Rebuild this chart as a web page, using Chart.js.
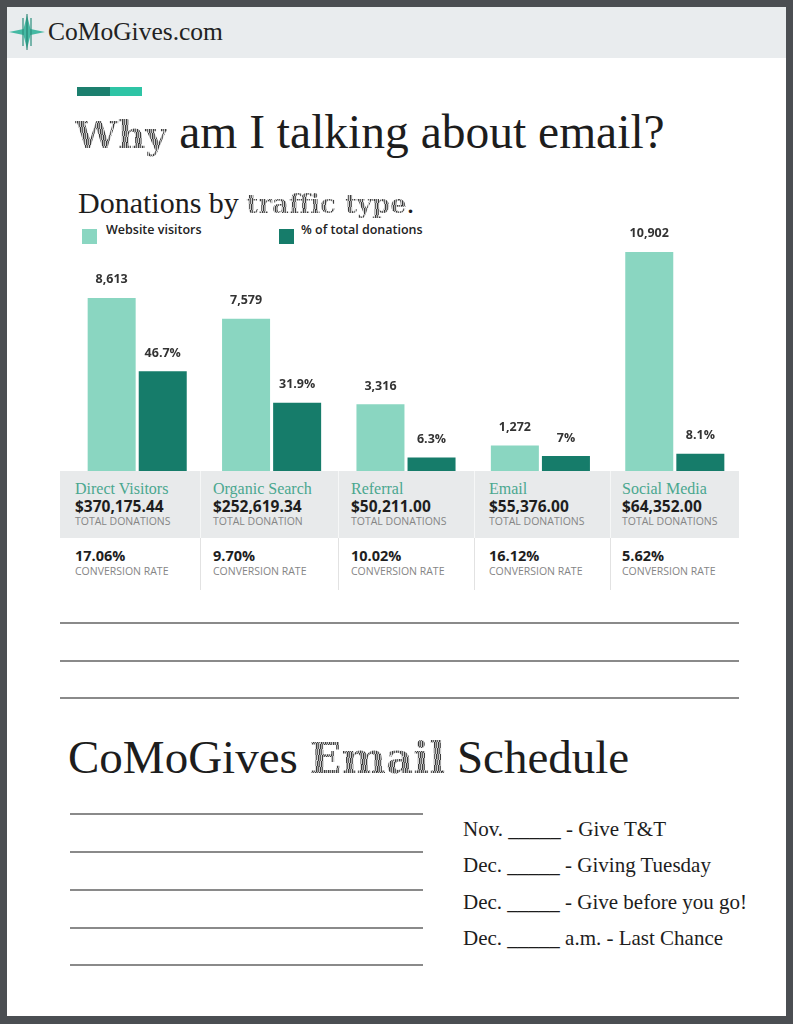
<!DOCTYPE html>
<html>
<head>
<meta charset="utf-8">
<script src="https://cdn.jsdelivr.net/npm/chart.js"></script>
<style>
  html, body { margin: 0; padding: 0; }
  body { width: 793px; height: 1024px; background: #4b4e52; position: relative; overflow: hidden; }
  .page { position: absolute; left: 7px; top: 7px; width: 779px; height: 1009px; background: #fff; }
  .abs { position: absolute; white-space: nowrap; line-height: 1; }
  .serif { font-family: "Liberation Serif", "DejaVu Serif", serif; color: #1d1d1d; }
  .sans { font-family: "Open Sans", "Noto Sans", sans-serif; }
  .grunge {
    font-family: "DejaVu Serif", serif; font-weight: bold;
    color: transparent;
    background: repeating-linear-gradient(100deg, #3c3c3c 0 1px, #a8a8a8 1px 2px, #606060 2px 3px, #cfcfcf 3px 4px);
    -webkit-background-clip: text; background-clip: text;
  }
  .rule { position: absolute; height: 2px; background: #8a8a8a; }
  .swatch { position: absolute; width: 15px; height: 15px; }
</style>
</head>
<body>
<div class="page"></div>

<!-- header band -->
<div class="abs" style="left:7px;top:7px;width:779px;height:51px;background:#e9ecee;"></div>
<svg class="abs" style="left:9px;top:14px" width="38" height="38" viewBox="0 0 38 38">
  <polygon points="18,1 21.5,15 36,18 21.5,21 18,35 14.5,21 0,18 14.5,15" fill="#45b9a3"/>
  <line x1="14" y1="4" x2="14" y2="32" stroke="#2a8f7d" stroke-width="1.2"/>
  <line x1="22" y1="4" x2="22" y2="32" stroke="#2a8f7d" stroke-width="1.2"/>
  <line x1="18" y1="0" x2="18" y2="36" stroke="#1f7767" stroke-width="1"/>
</svg>
<div class="abs serif" style="left:48px;top:19px;font-size:25.5px;color:#222;">CoMoGives.com</div>

<!-- accent bar -->
<div class="abs" style="left:77px;top:87px;width:33px;height:9px;background:#1c7f6e;"></div>
<div class="abs" style="left:110px;top:87px;width:32px;height:9px;background:#2ec4a5;"></div>

<!-- titles -->
<div class="abs serif" style="left:75px;top:109px;font-size:47.5px;"><span class="grunge" style="font-size:38px;">Why</span> am I talking about email?</div>
<div class="abs serif" style="left:78px;top:188px;font-size:30px;">Donations by <span class="grunge" style="font-size:26px;">traffic type</span>.</div>

<!-- legend -->
<div class="swatch" style="left:82px;top:229px;background:#8ad6c1;"></div>
<div class="abs sans" style="left:106px;top:224px;font-size:12.5px;font-weight:600;color:#222;">Website visitors</div>
<div class="swatch" style="left:279px;top:229px;background:#167c6a;"></div>
<div class="abs sans" style="left:301px;top:224px;font-size:12.5px;font-weight:600;color:#222;">% of total donations</div>

<!-- table band -->
<div class="abs" style="left:60px;top:471px;width:679px;height:67px;background:#e8eaeb;"></div>
<div id="table"></div>

<canvas id="chart" class="abs" style="left:70px;top:222px;" width="672" height="249"></canvas>

<!-- rules -->
<div class="rule" style="left:60px;top:622px;width:679px;"></div>
<div class="rule" style="left:60px;top:660px;width:679px;"></div>
<div class="rule" style="left:60px;top:697px;width:679px;"></div>

<div class="abs serif" style="left:68px;top:734px;font-size:47px;">CoMoGives <span class="grunge" style="font-size:42px;">Email</span> Schedule</div>

<div class="rule" style="left:70px;top:813px;width:353px;"></div>
<div class="rule" style="left:70px;top:851px;width:353px;"></div>
<div class="rule" style="left:70px;top:889px;width:353px;"></div>
<div class="rule" style="left:70px;top:927px;width:353px;"></div>
<div class="rule" style="left:70px;top:964px;width:353px;"></div>

<div class="abs serif" style="left:463px;top:819px;font-size:21px;">Nov. _____ - Give T&amp;T</div>
<div class="abs serif" style="left:463px;top:855px;font-size:21px;">Dec. _____ - Giving Tuesday</div>
<div class="abs serif" style="left:463px;top:892px;font-size:21px;">Dec. _____ - Give before you go!</div>
<div class="abs serif" style="left:463px;top:928px;font-size:21px;">Dec. _____ a.m. - Last Chance</div>

<script>
// chart data
const categories = ['Direct Visitors', 'Organic Search', 'Referral', 'Email', 'Social Media'];
const websiteVisitors = [8613, 7579, 3316, 1272, 10902];
const pctOfDonations = [46.7, 31.9, 6.3, 7, 8.1];
const totalDonations = ['$370,175.44', '$252,619.34', '$50,211.00', '$55,376.00', '$64,352.00'];
const donationCaptions = ['TOTAL DONATIONS', 'TOTAL DONATION', 'TOTAL DONATIONS', 'TOTAL DONATIONS', 'TOTAL DONATIONS'];
const conversionRates = ['17.06%', '9.70%', '10.02%', '16.12%', '5.62%'];

// table under the bars
const colLeft = [60, 200, 338, 474, 610];
const textLeft = [75, 213, 351, 489, 622];
const table = document.getElementById('table');
let html = '';
categories.forEach((cat, i) => {
    if (i > 0) {
        html += `<div class="abs" style="left:${colLeft[i]}px;top:471px;width:1px;height:67px;background:#f6f7f7;"></div>`;
        html += `<div class="abs" style="left:${colLeft[i]}px;top:538px;width:1px;height:52px;background:#e2e2e2;"></div>`;
    }
    const x = textLeft[i];
    html += `<div class="abs serif" style="left:${x}px;top:481px;font-size:16px;color:#4aa78f;">${cat}</div>`;
    html += `<div class="abs sans" style="left:${x}px;top:499px;font-size:15.5px;font-weight:700;color:#1e1e1e;">${totalDonations[i]}</div>`;
    html += `<div class="abs sans" style="left:${x}px;top:516px;font-size:10.5px;color:#858585;">${donationCaptions[i]}</div>`;
    html += `<div class="abs sans" style="left:${x}px;top:549px;font-size:14.5px;font-weight:700;color:#1e1e1e;">${conversionRates[i]}</div>`;
    html += `<div class="abs sans" style="left:${x}px;top:566px;font-size:10.5px;color:#858585;">CONVERSION RATE</div>`;
});
table.innerHTML = html;

// value labels above each bar
const barLabels = {
    id: 'barLabels',
    afterDatasetsDraw(chart) {
        const ctx = chart.ctx;
        ctx.save();
        ctx.font = 'bold 12.5px "Open Sans", sans-serif';
        ctx.fillStyle = '#333';
        ctx.textAlign = 'center';
        ctx.textBaseline = 'middle';
        chart.data.datasets.forEach((ds, i) => {
            chart.getDatasetMeta(i).data.forEach((bar, j) => {
                const v = ds.data[j];
                const txt = i === 0 ? v.toLocaleString('en-US') : v + '%';
                ctx.fillText(txt, bar.x, bar.y - 18);
            });
        });
        ctx.restore();
    }
};

new Chart(document.getElementById('chart').getContext('2d'), {
    type: 'bar',
    data: {
        labels: categories,
        datasets: [{
            label: 'Website visitors',
            data: websiteVisitors,
            backgroundColor: '#8ad6c1',
            yAxisID: 'y'
        }, {
            label: '% of total donations',
            data: pctOfDonations,
            backgroundColor: '#167c6a',
            yAxisID: 'y1'
        }]
    },
    options: {
        responsive: false,
        animation: false,
        categoryPercentage: 0.76,
        barPercentage: 0.94,
        layout: { padding: 0 },
        plugins: { legend: { display: false }, tooltip: { enabled: false } },
        scales: {
            x: { display: false },
            y: { display: false, min: 0, max: 12390 },
            y1: { display: false, min: 0, max: 116.5 }
        }
    },
    plugins: [barLabels]
});
</script>
</body>
</html>
